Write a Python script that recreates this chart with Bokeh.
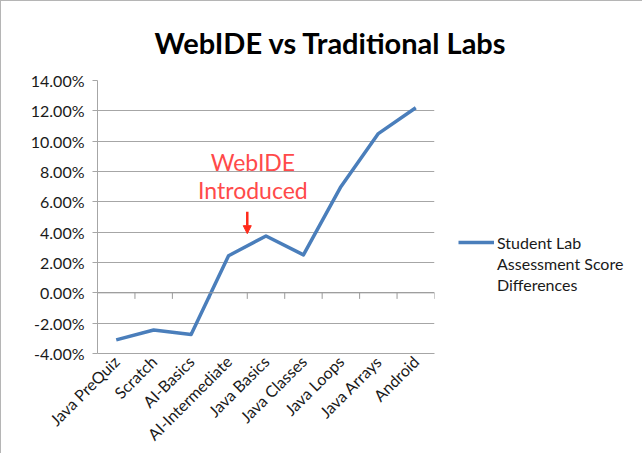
import math
from bokeh.plotting import figure
from bokeh.models import (Range1d, FixedTicker, PrintfTickFormatter, Label, Arrow,
                          NormalHead, Legend, LegendItem, ColumnDataSource, Span)
from bokeh.embed import file_html
from bokeh.resources import INLINE

categories = ["Java PreQuiz", "Scratch", "AI-Basics", "AI-Intermediate", "Java Basics",
              "Java Classes", "Java Loops", "Java Arrays", "Android"]
score_diff = [-3.1, -2.45, -2.75, 2.45, 3.75, 2.5, 7.0, 10.5, 12.2]
y_ticks = [-4, -2, 0, 2, 4, 6, 8, 10, 12, 14]
series_label = ["Student Lab", "Assessment Score", "Differences"]
annotation_lines = ["WebIDE", "Introduced"]

x_idx = list(range(len(categories)))
src = ColumnDataSource(dict(x=x_idx, y=score_diff, cat=categories))

FONT = "Lato"
GRAY = "#a6a6a6"
p = figure(output_backend="svg", toolbar_location=None,
           x_range=Range1d(-0.5, len(categories) - 0.5), y_range=Range1d(-4, 14),
           frame_width=337, frame_height=273,
           min_border_left=96, min_border_right=201, min_border_top=79, min_border_bottom=99,
           background_fill_color="white", border_fill_color="white")
p.styles = {"border-left": "1px solid #b5b5b5", "border-top": "1px solid #b5b5b5"}

p.title.text = "WebIDE vs Traditional Labs"
p.title.align = "left"
p.title.offset = 57
p.title.text_font = FONT
p.title.text_font_style = "bold"
p.title.text_font_size = "29px"
p.title.text_color = "#000000"
p.title.vertical_align = "bottom"
p.title.standoff = 42

p.outline_line_color = None
p.xgrid.visible = False
p.ygrid.grid_line_color = GRAY
p.ygrid.grid_line_width = 1

p.yaxis.ticker = FixedTicker(ticks=y_ticks)
p.yaxis.formatter = PrintfTickFormatter(format="%.2f%%")
p.yaxis.major_tick_out = 5
p.yaxis.major_tick_in = 0
p.yaxis.minor_tick_out = 0
p.yaxis.minor_tick_in = 0
p.yaxis.axis_line_color = GRAY
p.yaxis.major_tick_line_color = GRAY
p.yaxis.major_label_text_font = FONT
p.yaxis.major_label_text_font_size = "16px"
p.yaxis.major_label_text_color = "#1a1a1a"
p.yaxis.major_label_standoff = 8

p.xaxis.ticker = FixedTicker(ticks=x_idx)
p.xaxis.major_label_overrides = {i: c for i, c in zip(x_idx, categories)}
p.xaxis.major_label_orientation = math.pi / 4
p.xaxis.major_tick_out = 0
p.xaxis.major_tick_in = 0
p.xaxis.minor_tick_out = 0
p.xaxis.minor_tick_in = 0
p.xaxis.axis_line_color = GRAY
p.xaxis.major_label_text_font = FONT
p.xaxis.major_label_text_font_size = "16px"
p.xaxis.major_label_text_color = "#1a1a1a"
p.xaxis.major_label_standoff = 5

# category axis crossing at zero, with boundary tick marks
p.add_layout(Span(location=0, dimension="width", line_color="#9a9a9a", line_width=1))
bounds = [i + 0.5 for i in x_idx]
p.segment(x0=bounds, y0=[0] * len(bounds), x1=bounds, y1=[-0.4] * len(bounds),
          line_color="#9a9a9a", line_width=1)

r = p.line("x", "y", source=src, line_color="#4a7ebb", line_width=3.5, line_join="round")
d1 = p.line([0], [0], line_alpha=0)
d2 = p.line([0], [0], line_alpha=0)

red = "#ff4a4a"
p.add_layout(Label(x=3.65, y=8.64, text=annotation_lines[0], text_align="center",
                   text_baseline="middle", text_color=red, text_font=FONT,
                   text_font_size="23px"))
p.add_layout(Label(x=3.65, y=6.8, text=annotation_lines[1], text_align="center",
                   text_baseline="middle", text_color=red, text_font=FONT,
                   text_font_size="23px"))
p.add_layout(Arrow(x_start=3.5, y_start=5.35, x_end=3.5, y_end=3.9,
                   line_color="#ff2a1a", line_width=2.5,
                   end=NormalHead(size=8, fill_color="#ff2a1a", line_color="#ff2a1a")))

legend = Legend(items=[LegendItem(label=series_label[0], renderers=[r]),
                       LegendItem(label=series_label[1], renderers=[d1]),
                       LegendItem(label=series_label[2], renderers=[d2])],
                location=(24, 59), glyph_width=36, glyph_height=20, label_height=20,
                spacing=1, padding=0, margin=0, label_standoff=3,
                border_line_alpha=0, background_fill_alpha=0,
                label_text_font=FONT, label_text_font_size="16px",
                label_text_color="#1a1a1a")
p.add_layout(legend, "right")

open("out.html", "w").write(file_html(p, INLINE))
